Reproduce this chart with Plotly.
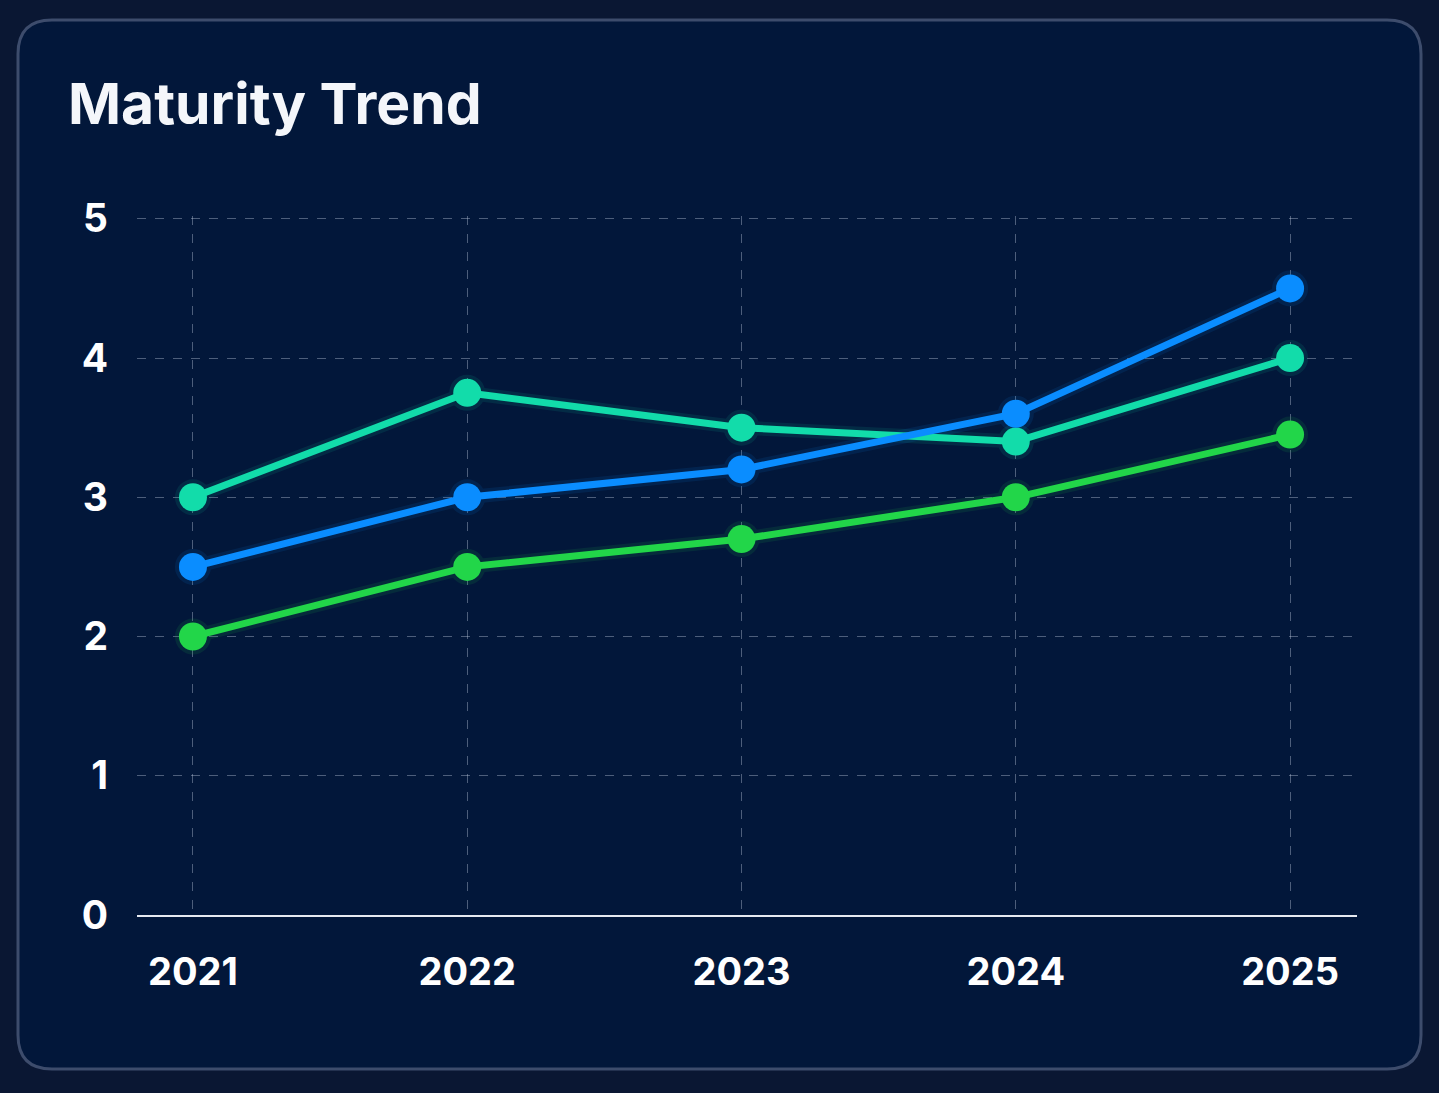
import plotly.graph_objects as go

years = [2021, 2022, 2023, 2024, 2025]
year_labels = ["2021", "2022", "2023", "2024", "2025"]
teal_values = [3.0, 3.75, 3.5, 3.4, 4.0]
blue_values = [2.5, 3.0, 3.2, 3.6, 4.5]
green_values = [2.0, 2.5, 2.7, 3.0, 3.45]
y_ticks = [0, 1, 2, 3, 4, 5]

W, H = 1439, 1093
L, R, T, B = 137, 1357, 216, 915
Y_MAX = 5.02

series = [
    ("Teal", teal_values, "#12dcaa"),
    ("Blue", blue_values, "#0a8dff"),
    ("Green", green_values, "#22d649"),
]

fig = go.Figure()
for name, vals, col in series:
    fig.add_trace(go.Scatter(x=years, y=vals, mode="lines+markers",
                             line=dict(color=col, width=14),
                             marker=dict(size=36, color=col, line=dict(width=0)),
                             opacity=0.10, hoverinfo="skip", showlegend=False))
for name, vals, col in series:
    fig.add_trace(go.Scatter(x=years, y=vals, mode="lines+markers", name=name,
                             line=dict(color=col, width=7),
                             marker=dict(size=28, color=col, line=dict(width=0)),
                             showlegend=False))

def px_x(p):
    return (p - L) / (R - L)

def px_y(p):
    return (B - p) / (B - T)

x0, x1, y0, y1, r = 18, 1421, 20, 1069, 34
path = (f"M {px_x(x0 + r)} {px_y(y0)} L {px_x(x1 - r)} {px_y(y0)} "
        f"Q {px_x(x1)} {px_y(y0)} {px_x(x1)} {px_y(y0 + r)} "
        f"L {px_x(x1)} {px_y(y1 - r)} Q {px_x(x1)} {px_y(y1)} {px_x(x1 - r)} {px_y(y1)} "
        f"L {px_x(x0 + r)} {px_y(y1)} Q {px_x(x0)} {px_y(y1)} {px_x(x0)} {px_y(y1 - r)} "
        f"L {px_x(x0)} {px_y(y0 + r)} Q {px_x(x0)} {px_y(y0)} {px_x(x0 + r)} {px_y(y0)} Z")

fig.add_shape(type="path", path=path, xref="paper", yref="paper", layer="below",
              fillcolor="#02173a", line=dict(color="#3d4c6c", width=3))

fig.add_annotation(text="<b>Maturity Trend</b>", xref="paper", yref="paper",
                   x=px_x(66), y=px_y(104), xanchor="left", yanchor="middle",
                   showarrow=False, font=dict(family="Inter", size=57, color="#f4f6fa"))

fig.update_layout(
    width=W, height=H,
    margin=dict(l=L, r=W - R, t=T, b=H - B),
    paper_bgcolor="#0a1733",
    plot_bgcolor="rgba(0,0,0,0)",
    font=dict(family="Inter", color="#ffffff"),
    xaxis=dict(
        range=[2020.796, 2025.244],
        tickmode="array", tickvals=years, ticktext=year_labels,
        tickfont=dict(size=38, color="#ffffff", family="Inter", weight=700),
        showgrid=True, gridcolor="rgba(200,210,230,0.38)", griddash="dash", gridwidth=1,
        zeroline=False, showline=True, linecolor="#e6e9f0", linewidth=2,
        ticks="", ticklabelstandoff=22, fixedrange=True,
    ),
    yaxis=dict(
        range=[0, Y_MAX],
        tickmode="array", tickvals=y_ticks,
        tickfont=dict(size=39, color="#ffffff", family="Inter", weight=700),
        showgrid=True, gridcolor="rgba(200,210,230,0.38)", griddash="dash", gridwidth=1,
        zeroline=False, showline=False,
        ticks="", ticklabelstandoff=28, fixedrange=True,
    ),
)

fig.write_html("out.html", config={"displayModeBar": False})
